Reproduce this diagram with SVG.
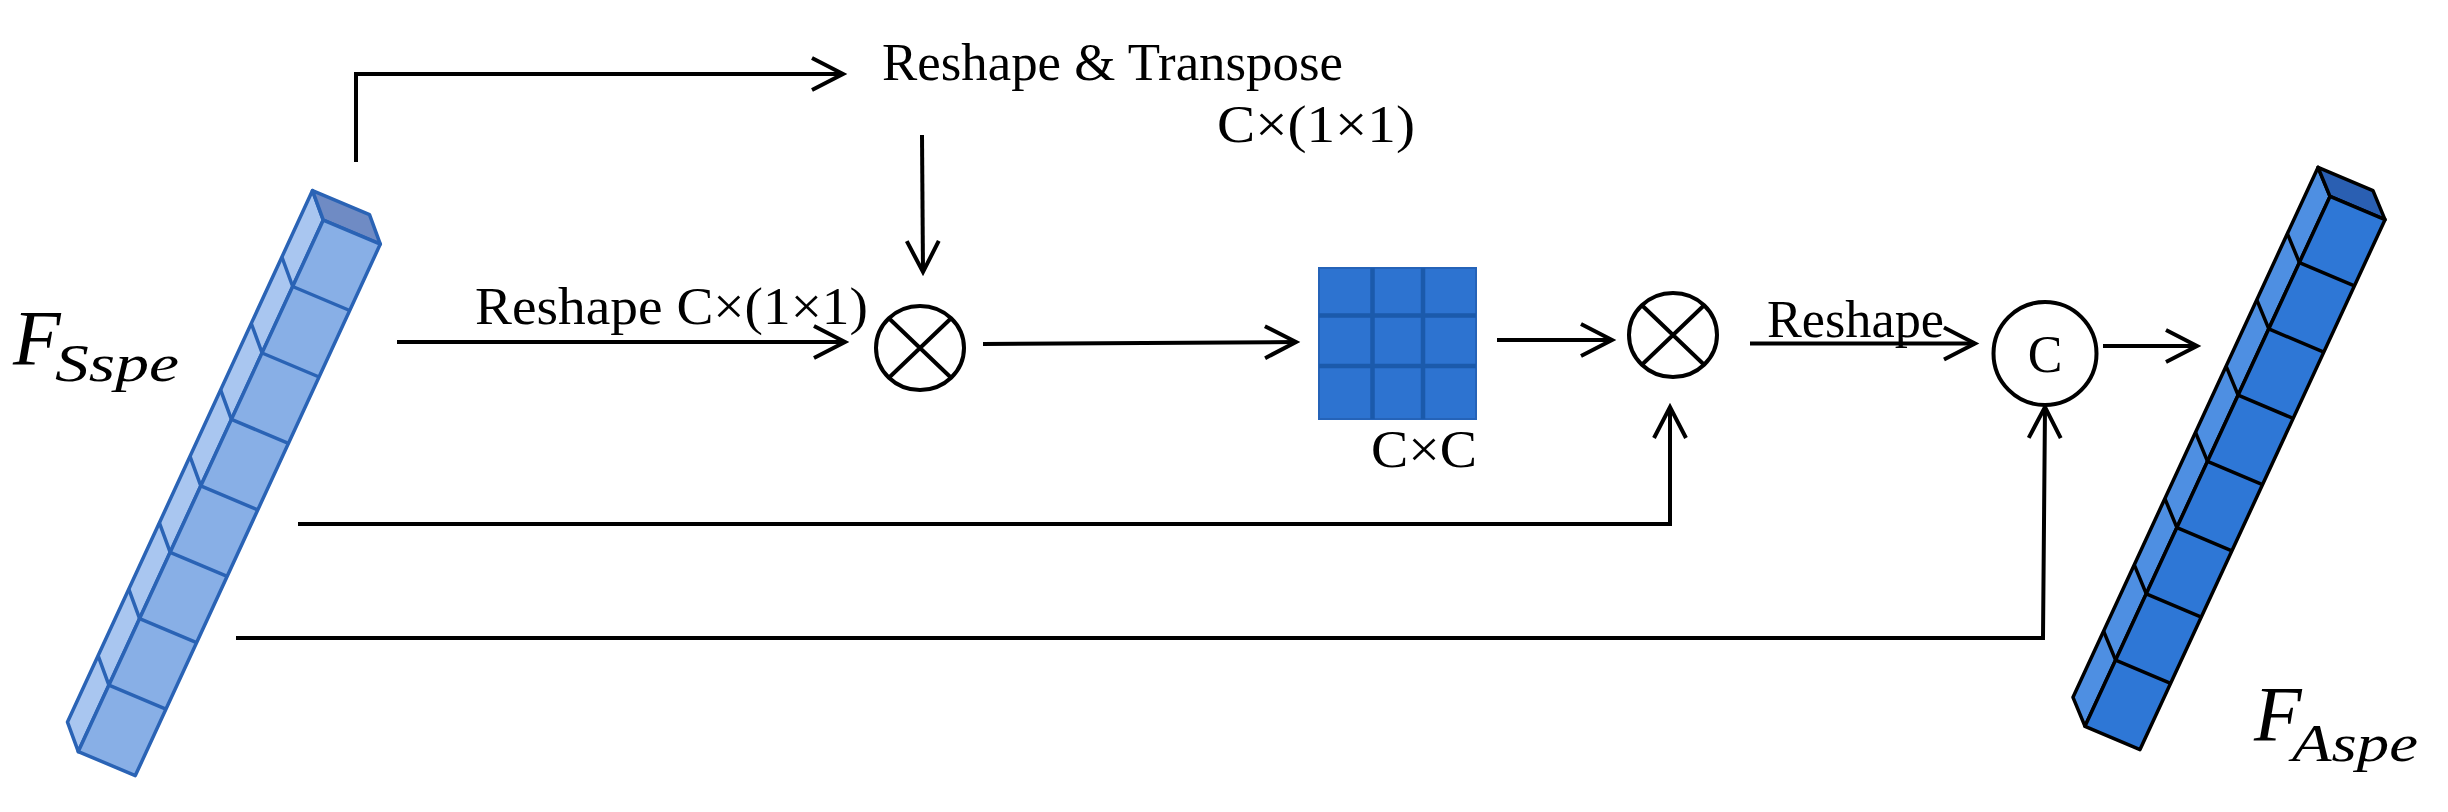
<svg xmlns="http://www.w3.org/2000/svg" width="2448" height="812" viewBox="0 0 2448 812">
<style>
.bg{fill:#ffffff}
.ln{fill:none;stroke:#000;stroke-width:4}
.op{fill:#fff;stroke:#000;stroke-width:4}
.lbl{font-family:"Liberation Serif","Times New Roman",serif;font-size:52px;fill:#000}
.math{font-family:"Liberation Serif","Times New Roman",serif;font-style:italic;fill:#000}
.lf{fill:#88afe6;stroke:#2a63b5;stroke-width:3.5;stroke-linejoin:round}
.ls{fill:#a9c6f0;stroke:#2a63b5;stroke-width:3.5;stroke-linejoin:round}
.lt{fill:#6f8bc4;stroke:#2a63b5;stroke-width:3.5;stroke-linejoin:round}
.ld{fill:none;stroke:#2a63b5;stroke-width:3.5}
.rf{fill:#2e77d6;stroke:#000;stroke-width:3.5;stroke-linejoin:round}
.rs{fill:#4e8fe2;stroke:#000;stroke-width:3.5;stroke-linejoin:round}
.rt{fill:#2a5fb2;stroke:#000;stroke-width:3.5;stroke-linejoin:round}
.rd{fill:none;stroke:#000;stroke-width:3.5}
</style>
<defs>
<marker id="arr" markerUnits="userSpaceOnUse" markerWidth="40" markerHeight="40" viewBox="-36 -20 40 40" refX="0" refY="0" orient="auto" overflow="visible">
<path d="M-31,-16 L0,0 L-31,16" fill="none" stroke="#000" stroke-width="4"/>
</marker>
</defs>
<rect class="bg" x="0" y="0" width="2448" height="812"/>

<g id="node-fsspe">
<polygon class="ls" points="323.3,220.1 312.5,190.6 67.5,722.1 78.3,751.6"/>
<polygon class="lt" points="323.3,220.1 380.3,244.1 369.5,214.6 312.5,190.6"/>
<polygon class="lf" points="323.3,220.1 380.3,244.1 135.3,775.6 78.3,751.6"/>
<path class="ld" d="M292.7,286.5 L349.7,310.5 M262.1,353 L319.1,377 M231.4,419.4 L288.4,443.4 M200.8,485.9 L257.8,509.9 M170.2,552.3 L227.2,576.3 M139.6,618.7 L196.6,642.7 M108.9,685.2 L165.9,709.2"/>
<path class="ld" d="M281.9,257 L292.7,286.5 M251.3,323.5 L262.1,353 M220.6,389.9 L231.4,419.4 M190,456.4 L200.8,485.9 M159.4,522.8 L170.2,552.3 M128.8,589.2 L139.6,618.7 M98.1,655.7 L108.9,685.2"/>
<text class="math" x="13" y="364" font-size="78">F</text>
<text class="math" x="55" y="381" font-size="52" textLength="124" lengthAdjust="spacingAndGlyphs">Sspe</text>
</g>

<g id="node-reshape-transpose">
<text class="lbl" x="882" y="80" textLength="461" lengthAdjust="spacingAndGlyphs">Reshape &amp; Transpose</text>
</g>

<g id="node-mul1">
<ellipse class="op" cx="920" cy="348" rx="44" ry="42"/>
<path class="ln" d="M888.9,318.3 L951.1,377.7 M951.1,318.3 L888.9,377.7"/>
</g>

<g id="node-matrix">
<rect x="1319" y="268" width="157" height="151" fill="#2d73d0" stroke="#2563b8" stroke-width="2"/>
<path d="M1372.5,268 V419 M1423,268 V419 M1319,315.5 H1476 M1319,366 H1476" fill="none" stroke="#1b5aab" stroke-width="4.5"/>
</g>

<g id="node-mul2">
<ellipse class="op" cx="1673" cy="335" rx="44" ry="42"/>
<path class="ln" d="M1641.9,305.3 L1704.1,364.7 M1704.1,305.3 L1641.9,364.7"/>
</g>

<g id="node-concat">
<ellipse class="op" cx="2045" cy="353.5" rx="51.5" ry="51.5"/>
<text class="lbl" x="2045" y="372" text-anchor="middle">C</text>
</g>

<g id="node-faspe">
<polygon class="rs" points="2330,196.4 2318,167.4 2073,697.3 2085,726.3"/>
<polygon class="rt" points="2330,196.4 2385,219.7 2373,190.7 2318,167.4"/>
<polygon class="rf" points="2330,196.4 2385,219.7 2140,749.6 2085,726.3"/>
<path class="rd" d="M2299.4,262.6 L2354.4,285.9 M2268.8,328.9 L2323.8,352.2 M2238.1,395.1 L2293.1,418.4 M2207.5,461.4 L2262.5,484.7 M2176.9,527.6 L2231.9,550.9 M2146.3,593.8 L2201.3,617.1 M2115.6,660.1 L2170.6,683.4"/>
<path class="rd" d="M2287.4,233.6 L2299.4,262.6 M2256.8,299.9 L2268.8,328.9 M2226.1,366.1 L2238.1,395.1 M2195.5,432.4 L2207.5,461.4 M2164.9,498.6 L2176.9,527.6 M2134.3,564.8 L2146.3,593.8 M2103.6,631.1 L2115.6,660.1"/>
<text class="math" x="2254" y="740" font-size="78">F</text>
<text class="math" x="2292" y="761" font-size="52" textLength="126" lengthAdjust="spacingAndGlyphs">Aspe</text>
</g>

<g id="connectors">
<polyline class="ln" points="356,162 356,74 843,74" marker-end="url(#arr)"/>
<line class="ln" x1="922" y1="135" x2="923" y2="272" marker-end="url(#arr)"/>
<line class="ln" x1="397" y1="342" x2="845" y2="342" marker-end="url(#arr)"/>
<line class="ln" x1="983" y1="344" x2="1296" y2="342" marker-end="url(#arr)"/>
<line class="ln" x1="1497" y1="340" x2="1612" y2="340" marker-end="url(#arr)"/>
<line class="ln" x1="1750" y1="343.5" x2="1975" y2="343.5" marker-end="url(#arr)"/>
<line class="ln" x1="2103" y1="346" x2="2197" y2="346" marker-end="url(#arr)"/>
<polyline class="ln" points="298,524 1670,524 1670,407" marker-end="url(#arr)"/>
<polyline class="ln" points="236,638 2043,638 2045,407" marker-end="url(#arr)"/>
</g>

<g id="labels">
<text class="lbl" x="1217" y="142" textLength="198" lengthAdjust="spacingAndGlyphs">C×(1×1)</text>
<text class="lbl" x="475" y="324" textLength="393" lengthAdjust="spacingAndGlyphs">Reshape C×(1×1)</text>
<text class="lbl" x="1371" y="467" textLength="106" lengthAdjust="spacingAndGlyphs">C×C</text>
<text class="lbl" x="1767" y="337" textLength="177" lengthAdjust="spacingAndGlyphs">Reshape</text>
</g>
</svg>
